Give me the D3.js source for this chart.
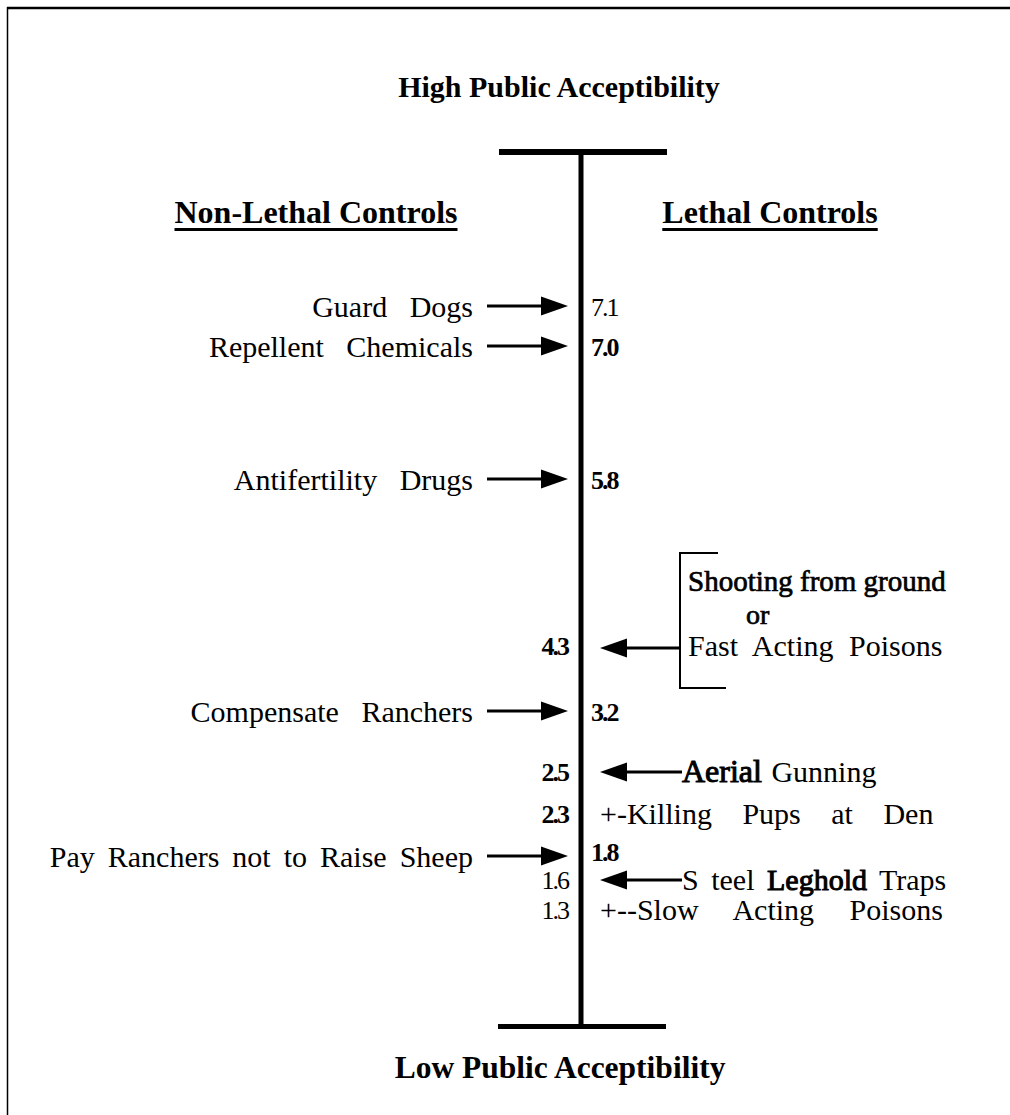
<!DOCTYPE html>
<html><head><meta charset="utf-8">
<script src="https://cdn.jsdelivr.net/npm/d3@7"></script>
<style>
body{margin:0;background:#fff;}
svg text{font-family:"Liberation Serif","Times New Roman",serif;fill:#000;}
</style></head>
<body><svg id="c" width="1010" height="1115"></svg>
<script>
// ---- data ----
const nonLethalLabels = ["Guard Dogs","Repellent Chemicals","Antifertility Drugs","Compensate Ranchers","Pay Ranchers not to Raise Sheep"];
const nonLethalValues = [7.1, 7.0, 5.8, 3.2, 1.8];
const nonLethalBold   = [false, true, true, true, true];
const lethalLabels = [["Shooting from ground","or","Fast Acting Poisons"],["Aerial Gunning"],["+-Killing Pups at Den"],["S teel Leghold Traps"],["+--Slow Acting Poisons"]];
const lethalValues = [4.3, 2.5, 2.3, 1.6, 1.3];
const lethalBold   = [true, true, true, false, false];
const lethalArrow  = [true, true, false, true, false];
const scaleTop = "High Public Acceptibility";
const scaleBottom = "Low Public Acceptibility";
const headers = ["Non-Lethal Controls","Lethal Controls"];

// ---- layout ----
const svg = d3.select("#c");
const axisX = 581;
const allVals = nonLethalValues.concat(lethalValues).sort((a,b)=>b-a);
// label rows are laid out as text lines, not to scale
const y = d3.scaleLinear()
  .domain(allVals)
  .range([307, 347, 480, 646, 712, 772, 814, 857, 880, 910]);
const fmt = d3.format(".1f");

// frame
svg.append("line").attr("x1",7).attr("x2",1010).attr("y1",8).attr("y2",8).attr("stroke","#000").attr("stroke-width",2.5);
svg.append("line").attr("x1",7.5).attr("x2",7.5).attr("y1",7).attr("y2",1115).attr("stroke","#000").attr("stroke-width",1.5);

// axis
svg.append("rect").attr("x",499).attr("y",149).attr("width",168).attr("height",6);
svg.append("rect").attr("x",498).attr("y",1024).attr("width",168).attr("height",5);
svg.append("line").attr("x1",axisX).attr("x2",axisX).attr("y1",155).attr("y2",1025).attr("stroke","#000").attr("stroke-width",5);

svg.append("text").attr("x",559).attr("y",97).attr("text-anchor","middle")
  .attr("font-size",30).attr("font-weight","bold").text(scaleTop);
svg.append("text").attr("x",560).attr("y",1078).attr("text-anchor","middle")
  .attr("font-size",31.5).attr("font-weight","bold").text(scaleBottom);

[[316,headers[0]],[770,headers[1]]].forEach(([x,t])=>{
  const tx = svg.append("text").attr("x",x).attr("y",223).attr("text-anchor","middle")
    .attr("font-size",32).attr("font-weight","bold").text(t);
  const bb = tx.node().getBBox();
  svg.append("rect").attr("x",bb.x).attr("y",228).attr("width",bb.width).attr("height",3);
});

function arrow(x1, x2, yy){
  const dir = Math.sign(x2-x1);
  const head = 27, hh = 9.5;
  svg.append("line").attr("x1",x1).attr("x2",x2-dir*head+dir*2).attr("y1",yy).attr("y2",yy)
    .attr("stroke","#000").attr("stroke-width",3);
  svg.append("path").attr("d",`M${x2},${yy} L${x2-dir*head},${yy-hh} L${x2-dir*head},${yy+hh} Z`);
}
function heavy(sel){ return sel.attr("stroke","#000").attr("stroke-width",0.7); }

// non-lethal (left labels, arrows pointing right)
nonLethalLabels.forEach((lab,i)=>{
  const yy = y(nonLethalValues[i]);
  const nWords = lab.split(" ").length;
  svg.append("text").attr("x",473).attr("y",yy+10).attr("text-anchor","end")
    .attr("font-size",30).attr("word-spacing",nWords>3?5.5:15).text(lab);
  arrow(487, 568, yy-1);
  svg.append("text").attr("x",591).attr("y",yy+(i===4?4:9))
    .attr("font-size",26).attr("font-weight",nonLethalBold[i]?"bold":"normal")
    .attr("letter-spacing",-2).text(fmt(nonLethalValues[i]));
});

// lethal (values on left of axis, labels right)
lethalValues.forEach((v,i)=>{
  const yy = y(v);
  svg.append("text").attr("x",568).attr("y",yy+9).attr("text-anchor","end")
    .attr("font-size",26).attr("font-weight",lethalBold[i]?"bold":"normal")
    .attr("letter-spacing",-2).text(fmt(v));
  const lines = lethalLabels[i];
  if(i===0){
    arrow(680, 600, yy+2);
    svg.append("path").attr("d",`M718,${yy-93} H680 V${yy+42} H726`).attr("fill","none").attr("stroke","#000").attr("stroke-width",2);
    heavy(svg.append("text").attr("x",688).attr("y",yy-55).attr("font-size",29)).text(lines[0]);
    heavy(svg.append("text").attr("x",746).attr("y",yy-22).attr("font-size",28)).text(lines[1]);
    svg.append("text").attr("x",688).attr("y",yy+10).attr("font-size",30).attr("word-spacing",8).text(lines[2]);
  } else if(lethalArrow[i]){
    arrow(682, 600, yy);
    const t = svg.append("text").attr("x",682).attr("y",yy+10).attr("font-size",30).attr("word-spacing",i===1?2:5);
    const words = lines[0].split(" ");
    words.forEach((w,k)=>{
      const bold = (w==="Aerial"||w==="Leghold");
      const ts = t.append("tspan").text((k?" ":"")+w);
      if(bold) heavy(ts).attr("stroke-width",1).attr("font-size",w==="Aerial"?32:30);
    });
  } else {
    svg.append("text").attr("x",600).attr("y",yy+10).attr("font-size",30).attr("word-spacing",i===4?28:23).text(lines[0]);
  }
});
</script></body></html>
